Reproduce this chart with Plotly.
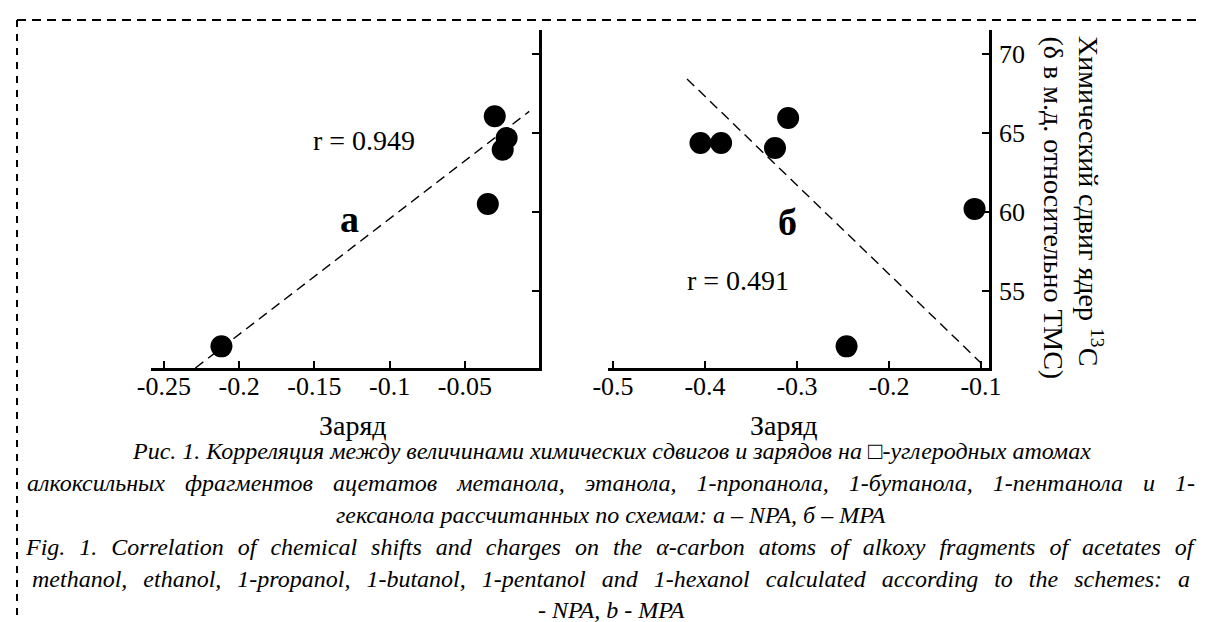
import plotly.graph_objects as go

W, H = 1205, 622

# ---------------- data ----------------
charge_npa = [-0.2118, -0.0348, -0.0302, -0.0249, -0.0223]
shift_npa = [51.50, 60.51, 66.06, 63.94, 64.68]

charge_mpa = [-0.4049, -0.3825, -0.3239, -0.3096, -0.2461, -0.107]
shift_mpa = [64.37, 64.37, 64.05, 65.95, 51.50, 60.20]

fit_npa_x = [-0.2291, -0.0073]
fit_npa_y = [50.13, 66.37]
fit_mpa_x = [-0.4195, -0.1000]
fit_mpa_y = [68.42, 50.45]

npa_ticks = [-0.25, -0.2, -0.15, -0.1, -0.05]
npa_ticklabels = ["-0.25", "-0.2", "-0.15", "-0.1", "-0.05"]
mpa_ticks = [-0.5, -0.4, -0.3, -0.2, -0.1]
mpa_ticklabels = ["-0.5", "-0.4", "-0.3", "-0.2", "-0.1"]
shift_ticks = [55, 60, 65, 70]
shift_ticklabels = ["55", "60", "65", "70"]

x_title = "Заряд"
y_title_1 = "Химический сдвиг ядер <sup>13</sup>C"
y_title_2 = "(δ в м.д. относительно ТМС)"
r_npa = "r = 0.949"
r_mpa = "r = 0.491"
panel_a = "а"
panel_b = "б"
caption = [
    "Рис. 1. Корреляция между величинами химических сдвигов и зарядов на \u25a1-углеродных атомах",
    "алкоксильных фрагментов ацетатов метанола, этанола, 1-пропанола, 1-бутанола, 1-пентанола и 1-",
    "гексанола рассчитанных по схемам: а – NPA, б – MPA",
    "Fig. 1. Correlation of chemical shifts and charges on the α-carbon atoms of alkoxy fragments of acetates of",
    "methanol, ethanol, 1-propanol, 1-butanol, 1-pentanol and 1-hexanol calculated according to the schemes: a",
    "- NPA, b - MPA",
]
# word gaps used to reproduce the justified (full-width) caption lines
caption_gaps = [" ", "\u2002\u2004", " ", " \u2004", "\u2004\u2004", " "]

FONT = "Liberation Serif, Times New Roman, serif"


def px(x):
    return x / W


def py(y):
    return 1 - y / H


fig = go.Figure()

dot = dict(size=22, color="black")
dash_line = dict(color="black", width=1.4, dash="10px,6px")

fig.add_trace(go.Scatter(x=fit_npa_x, y=fit_npa_y, mode="lines", line=dash_line,
                         xaxis="x", yaxis="y", showlegend=False))
fig.add_trace(go.Scatter(x=charge_npa, y=shift_npa, mode="markers", marker=dot,
                         xaxis="x", yaxis="y", showlegend=False))
fig.add_trace(go.Scatter(x=fit_mpa_x, y=fit_mpa_y, mode="lines", line=dash_line,
                         xaxis="x2", yaxis="y2", showlegend=False))
fig.add_trace(go.Scatter(x=charge_mpa, y=shift_mpa, mode="markers", marker=dot,
                         xaxis="x2", yaxis="y2", showlegend=False))

axis_common = dict(showline=True, linewidth=2.6, linecolor="black", showgrid=False,
                   zeroline=False, ticks="inside", ticklen=7, tickwidth=2, tickcolor="black",
                   tickfont=dict(family=FONT, size=26, color="black"), automargin=False,
                   fixedrange=True)

ydom = [py(360), py(22)]
yrange = [50.13, 71.52]

fig.update_layout(
    template="none",
    width=W, height=H,
    margin=dict(l=0, r=0, t=0, b=0),
    paper_bgcolor="white", plot_bgcolor="rgba(0,0,0,0)",
    showlegend=False,
    xaxis=dict(domain=[px(143), px(531)], range=[-0.2586, -0.0008], anchor="y",
               tickvals=npa_ticks, ticktext=npa_ticklabels, ticklabelstandoff=-7, **axis_common),
    yaxis=dict(domain=ydom, range=yrange, anchor="x", side="right",
               tickvals=shift_ticks, showticklabels=False, **axis_common),
    xaxis2=dict(domain=[px(600), px(981)], range=[-0.5054, -0.0913], anchor="y2",
                tickvals=mpa_ticks, ticktext=mpa_ticklabels, ticklabelstandoff=-7, **axis_common),
    yaxis2=dict(domain=ydom, range=yrange, anchor="x2", side="right",
                tickvals=shift_ticks, ticktext=shift_ticklabels,
                ticklabelstandoff=2, **axis_common),
)

ann = []


def add_text(text, x, y, size, bold=False, italic=False, angle=0, xanchor="center", yanchor="middle"):
    t = text
    if bold:
        t = "<b>" + t + "</b>"
    if italic:
        t = "<i>" + t + "</i>"
    ann.append(dict(text=t, x=px(x), y=py(y), xref="paper", yref="paper",
                    xanchor=xanchor, yanchor=yanchor, showarrow=False, textangle=angle,
                    font=dict(family=FONT, size=size, color="black")))


add_text(r_npa, 356, 133, 28)
add_text(r_mpa, 730, 273, 28)
add_text(panel_a, 341, 211, 38, bold=True)
add_text(panel_b, 779, 214, 38, bold=True)
add_text(x_title, 345, 418, 28)
add_text(x_title, 776, 418, 28)
add_text(y_title_1, 1083, 26, 28, angle=90, yanchor="top")
add_text(y_title_2, 1045, 26, 28, angle=90, yanchor="top")

cap_y = [443, 475, 507, 539, 571, 602]
for line, gap, yy in zip(caption, caption_gaps, cap_y):
    add_text(line.replace(" ", gap), 603, yy, 24, italic=True)

fig.update_layout(annotations=ann)

# dashed frame
fig.add_shape(type="line", xref="paper", yref="paper", x0=px(9), x1=px(1205), y0=py(12), y1=py(12),
              line=dict(color="black", width=2, dash="9px,6px"))
fig.add_shape(type="line", xref="paper", yref="paper", x0=px(9), x1=px(9), y0=py(12), y1=py(622),
              line=dict(color="black", width=2, dash="7px,7px"))

fig.write_html("out.html")
